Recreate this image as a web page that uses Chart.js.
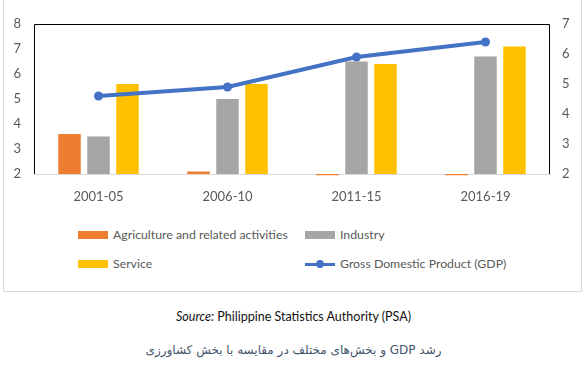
<!DOCTYPE html>
<html>
<head>
<meta charset="utf-8">
<script src="https://cdn.jsdelivr.net/npm/chart.js@4/dist/chart.umd.min.js"></script>
<style>
  body { margin: 0; background: #fff; width: 587px; height: 367px; overflow: hidden; position: relative; font-family: Lato, sans-serif; }
  #box { position: absolute; left: 3px; top: -2px; width: 577px; height: 292px; border: 1px solid #d9d9d9; }
  #chart { position: absolute; left: 0; top: 0; }
  .item { position: absolute; height: 16px; line-height: 16px; font-size: 12.3px; color: #595959; white-space: nowrap; }
  .sw { display: inline-block; width: 30px; height: 8px; vertical-align: middle; margin-right: 5px; position: relative; top: -1px; }
  .ln { display: inline-block; width: 30px; height: 8px; vertical-align: middle; margin-right: 5px; position: relative; top: -1px; }
  .ln i { position: absolute; left: 0; top: 3px; width: 30px; height: 3px; }
  .ln b { position: absolute; left: 11px; top: 0; width: 8px; height: 8px; border-radius: 50%; }
  #source { position: absolute; left: 0; width: 587px; top: 309px; text-align: center; font-size: 12.5px; color: #111; }
  #caption { position: absolute; left: 0; width: 587px; top: 343px; text-align: center; font-family: "DejaVu Sans", sans-serif; font-size: 12px; color: #44546a; }
</style>
</head>
<body>
<div id="box"></div>
<canvas id="chart" width="587" height="215"></canvas>
<div id="legend"></div>
<div id="source"><i>Source:</i> Philippine Statistics Authority (PSA)</div>
<div id="caption" dir="rtl">رشد GDP  و بخش‌های مختلف در مقایسه با بخش کشاورزی</div>
<script>
var periods = ['2001-05', '2006-10', '2011-15', '2016-19'];
var agriculture = [3.6, 2.1, 1.95, 1.95];
var industry = [3.5, 5.0, 6.5, 6.7];
var service = [5.6, 5.6, 6.4, 7.1];
var gdp = [4.6, 4.9, 5.9, 6.4];
var leftRange = [2, 8];
var rightRange = [2, 7];

var tickFont = { family: 'Lato', size: 13 };

// black frame round the plot area (top, left, right)
var frame = {
  id: 'frame',
  beforeDatasetsDraw: function(c) {
    var a = c.chartArea, ctx = c.ctx;
    ctx.save();
    ctx.strokeStyle = '#000';
    ctx.lineWidth = 1;
    ctx.beginPath();
    ctx.moveTo(a.left + 0.5, a.bottom);
    ctx.lineTo(a.left + 0.5, a.top + 0.5);
    ctx.lineTo(a.right - 0.5, a.top + 0.5);
    ctx.lineTo(a.right - 0.5, a.bottom);
    ctx.stroke();
    ctx.restore();
  }
};

var chart = new Chart(document.getElementById('chart'), {
  type: 'bar',
  data: {
    labels: periods,
    datasets: [
      { label: 'Agriculture and related activities', data: agriculture, backgroundColor: '#ED7D31', yAxisID: 'y', order: 2, clip: false },
      { label: 'Industry', data: industry, backgroundColor: '#A5A5A5', yAxisID: 'y', order: 2 },
      { label: 'Service', data: service, backgroundColor: '#FFC000', yAxisID: 'y', order: 2 },
      { type: 'line', label: 'Gross Domestic Product (GDP)', data: gdp, borderColor: '#4472C4', backgroundColor: '#4472C4',
        borderWidth: 4, pointRadius: 4.5, pointBorderWidth: 0, tension: 0, yAxisID: 'y1', order: 1 }
    ]
  },
  options: {
    responsive: false,
    animation: false,
    layout: { padding: { top: 24, left: 0, right: 0, bottom: 0 } },
    datasets: { bar: { categoryPercentage: 0.674, barPercentage: 0.776, base: leftRange[0] } },
    plugins: { legend: { display: false }, tooltip: { enabled: false } },
    scales: {
      x: {
        grid: { display: false, drawTicks: false },
        border: { color: '#d9d9d9' },
        ticks: { color: '#595959', font: tickFont, padding: 15, maxRotation: 0 },
        afterFit: function(s) { s.height = 41; }
      },
      y: {
        position: 'left', min: leftRange[0], max: leftRange[1],
        grid: { display: false, drawTicks: false }, border: { display: false },
        ticks: { stepSize: 1, color: '#595959', font: tickFont, padding: 13 },
        afterFit: function(s) { s.width = 34; }
      },
      y1: {
        position: 'right', min: rightRange[0], max: rightRange[1],
        grid: { display: false, drawTicks: false }, border: { display: false },
        ticks: { stepSize: 1, color: '#595959', font: tickFont, padding: 12 },
        afterFit: function(s) { s.width = 37; }
      }
    }
  },
  plugins: [frame]
});

// legend in two columns, built from the datasets
var spots = [[78, 227], [305, 227], [78, 256], [305, 256]];
var legend = document.getElementById('legend');
chart.data.datasets.forEach(function(ds, i) {
  var d = document.createElement('div');
  d.className = 'item';
  d.style.left = spots[i][0] + 'px';
  d.style.top = spots[i][1] + 'px';
  var mark = document.createElement('span');
  if (ds.type === 'line') {
    mark.className = 'ln';
    mark.innerHTML = '<i style="background:' + ds.borderColor + '"></i><b style="background:' + ds.borderColor + '"></b>';
  } else {
    mark.className = 'sw';
    mark.style.background = ds.backgroundColor;
  }
  d.appendChild(mark);
  d.appendChild(document.createTextNode(ds.label));
  legend.appendChild(d);
});
</script>
</body>
</html>
